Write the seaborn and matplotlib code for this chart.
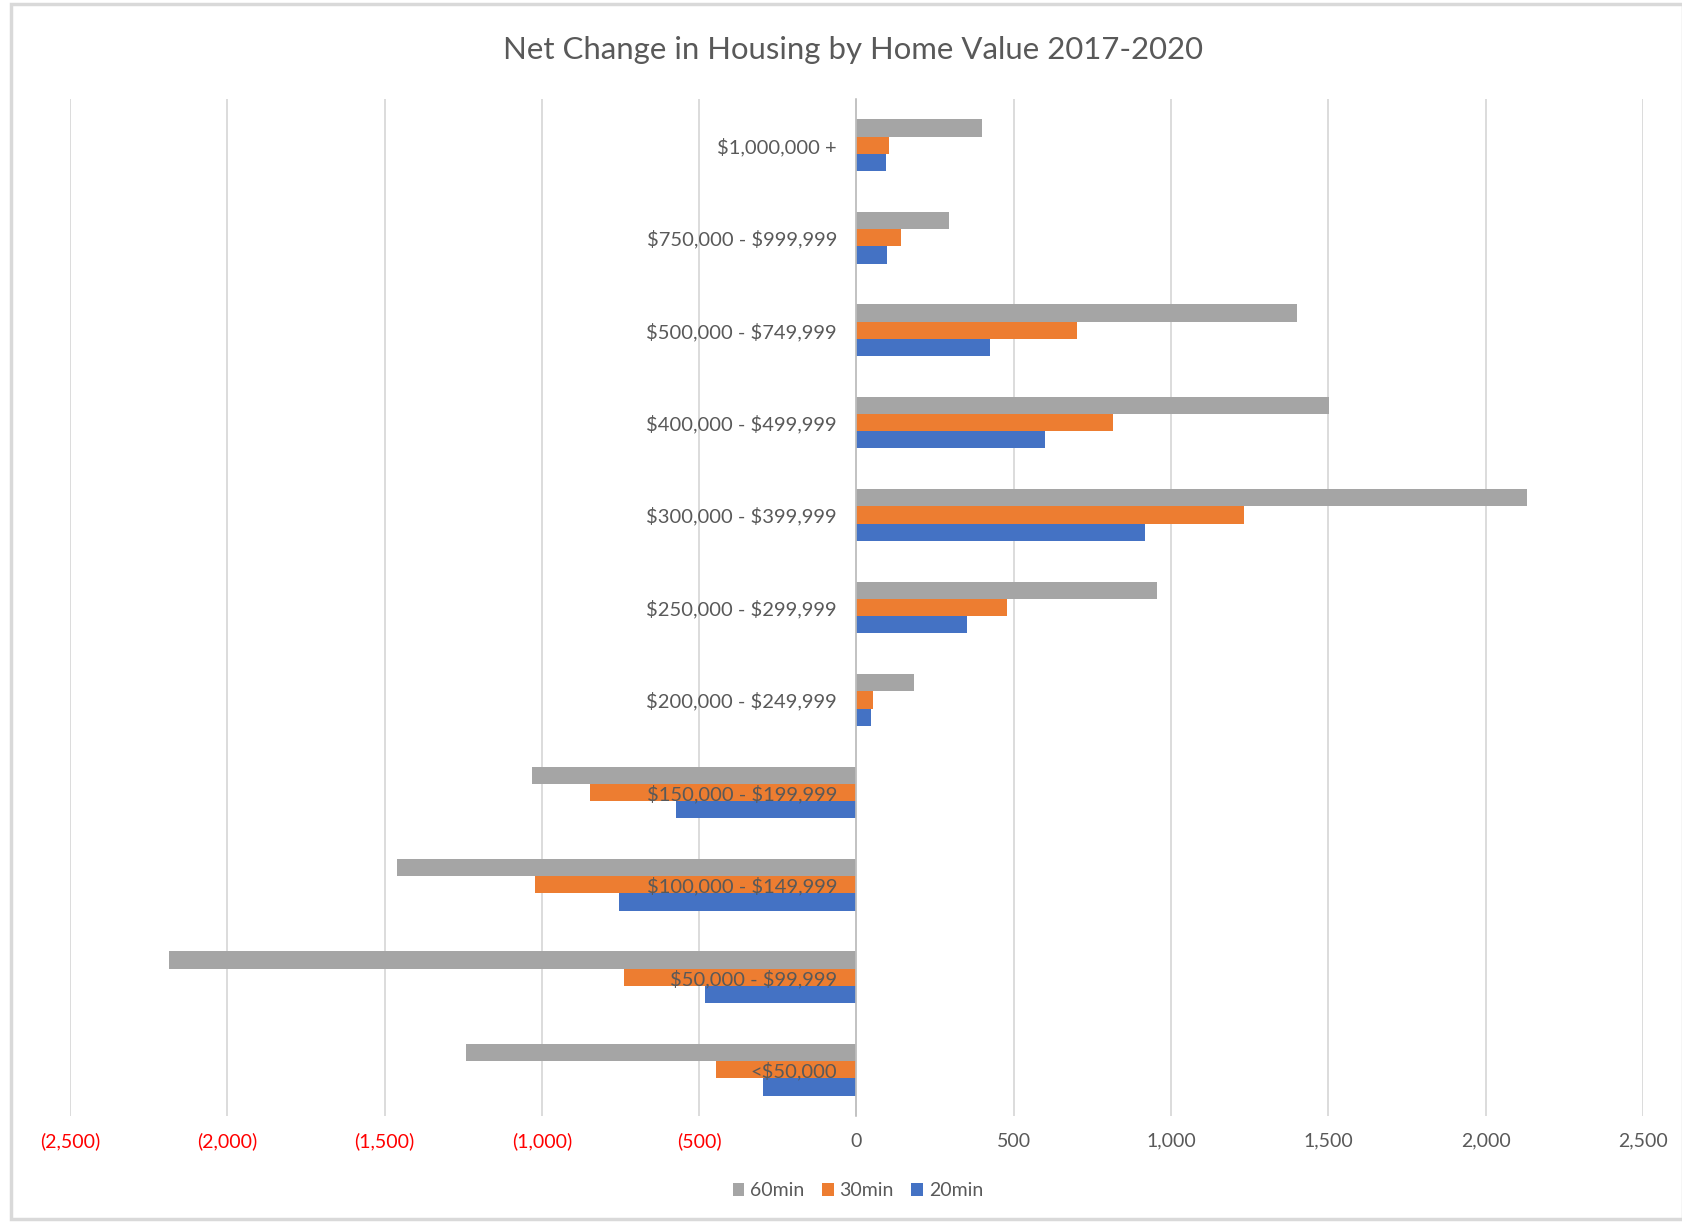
import matplotlib
matplotlib.use("Agg")
import matplotlib.pyplot as plt
import seaborn as sns
import pandas as pd
from matplotlib.patches import Rectangle
from matplotlib.transforms import ScaledTranslation

categories = ["$1,000,000 +", "$750,000 - $999,999", "$500,000 - $749,999",
              "$400,000 - $499,999", "$300,000 - $399,999", "$250,000 - $299,999",
              "$200,000 - $249,999", "$150,000 - $199,999", "$100,000 - $149,999",
              "$50,000 - $99,999", "<$50,000"]
min60 = [398, 295, 1400, 1502, 2130, 956, 182, -1031, -1462, -2186, -1240]
min30 = [104, 143, 702, 815, 1231, 478, 54, -848, -1021, -739, -447]
min20 = [94, 98, 425, 600, 916, 352, 47, -575, -754, -480, -297]
series_names = ["60min", "30min", "20min"]
colors = ["#A5A5A5", "#ED7D31", "#4472C4"]
xticks = [-2500, -2000, -1500, -1000, -500, 0, 500, 1000, 1500, 2000, 2500]

sns.set_theme(style="white")
plt.rcParams["font.family"] = ["Lato", "DejaVu Sans"]

rows = []
for name, vals in zip(series_names, [min60, min30, min20]):
    for c, v in zip(categories, vals):
        rows.append({"range": c, "value": v, "series": name})
df = pd.DataFrame(rows)

W, H = 1683, 1222
fig = plt.figure(figsize=(W / 100, H / 100), dpi=100)
ax = fig.add_axes([70 / W, 1 - 1116 / H, (1643 - 70) / W, (1116 - 99) / H])

sns.barplot(data=df, x="value", y="range", hue="series", order=categories,
            hue_order=series_names, palette=colors, orient="h", width=0.56,
            errorbar=None, saturation=1, ax=ax, zorder=2, linewidth=0)

ax.set_xlim(-2500, 2500)
ax.set_ylim(10.5, -0.5)
ax.set_xticks(xticks)
ax.set_xticklabels([f"({abs(t):,})" if t < 0 else f"{t:,}" for t in xticks])
ax.tick_params(axis="x", length=0, pad=12, labelsize=14, labelcolor="#595959")
for lab, t in zip(ax.get_xticklabels(), xticks):
    lab.set_color("#FF0000" if t < 0 else "#595959")
ax.set_yticks(range(len(categories)))
ax.set_yticklabels([c.replace("$", r"\$") for c in categories])
ax.tick_params(axis="y", length=0, pad=14, labelsize=14.5, labelcolor="#595959")
for lab in ax.get_yticklabels():
    lab.set_transform(lab.get_transform() + ScaledTranslation(0, 3 / 100, fig.dpi_scale_trans))
ax.set_xlabel("")
ax.set_ylabel("")

for s in ["top", "right", "bottom"]:
    ax.spines[s].set_visible(False)
ax.spines["left"].set_position(("data", 0))
ax.spines["left"].set_color("#BFBFBF")
ax.spines["left"].set_linewidth(1.2)
ax.spines["left"].set_zorder(3)

ax.grid(axis="x", color="#D9D9D9", linewidth=1.3)
ax.grid(axis="y", visible=False)
ax.set_axisbelow(True)
ax.yaxis.set_zorder(5)

fig.text(853 / W, 1 - 50 / H, "Net Change in Housing by Home Value 2017-2020",
         ha="center", va="center", fontsize=22.4, color="#595959")

sns.move_legend(ax, "center", bbox_to_anchor=(858 / W, 1 - 1191 / H),
                bbox_transform=fig.transFigure, ncol=3, frameon=False,
                title=None, fontsize=14, handlelength=0.6, handleheight=0.6,
                handletextpad=0.3, columnspacing=0.9)
for t in ax.get_legend().get_texts():
    t.set_color("#595959")

fig.patches.append(Rectangle((11 / W, 3 / H), 1 - 11 / W, 1 - 7 / H,
                             transform=fig.transFigure, fill=False,
                             edgecolor="#D9D9D9", linewidth=2.5))

fig.savefig("out.png", dpi=100, facecolor="white")
